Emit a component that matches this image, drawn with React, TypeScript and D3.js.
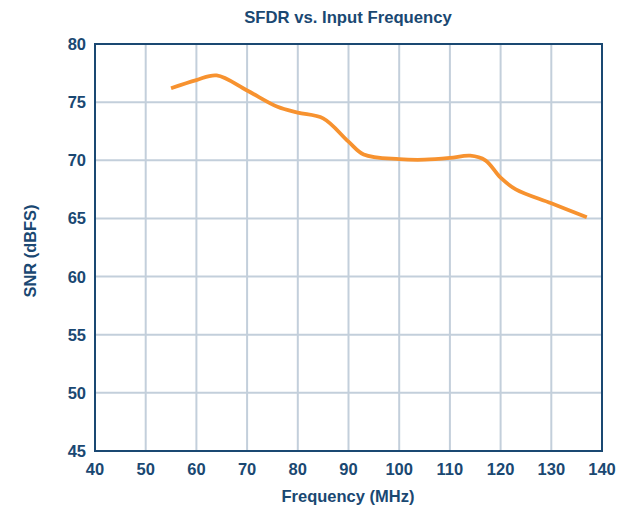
import React from 'react';
import * as d3 from 'd3';

const freqs = [55, 60, 64, 70, 76, 80, 85, 90, 93, 100, 105, 110, 114, 117, 120, 123, 130, 137];
const snr = [76.2, 76.9, 77.3, 76.0, 74.6, 74.1, 73.6, 71.6, 70.5, 70.1, 70.05, 70.2, 70.4, 70.0, 68.5, 67.5, 66.3, 65.1];
const xTicks = [40, 50, 60, 70, 80, 90, 100, 110, 120, 130, 140];
const yTicks = [45, 50, 55, 60, 65, 70, 75, 80];

const W = 637;
const H = 513;
const navy = '#1a4872';
const grid = '#c3cfdb';
const orange = '#f7922f';
const font = '"Liberation Sans", Arial, sans-serif';

const App: React.FC = () => {
  const x = d3.scaleLinear().domain([40, 140]).range([95, 602]);
  const y = d3.scaleLinear().domain([45, 80]).range([451, 44]);

  const pts = freqs.map((f, i) => [f, snr[i]] as [number, number]);
  const line = d3.line<[number, number]>()
    .x(d => x(d[0]))
    .y(d => y(d[1]))
    .curve(d3.curveCatmullRom.alpha(0.5));

  return (
    <svg width={W} height={H} style={{ position: 'absolute', left: 0, top: 0 }}>
      <rect width={W} height={H} fill="#fff" />
      {xTicks.slice(1, -1).map(t => (
        <line key={'gx' + t} x1={x(t)} x2={x(t)} y1={y(80)} y2={y(45)} stroke={grid} strokeWidth={2} />
      ))}
      {yTicks.slice(1, -1).map(t => (
        <line key={'gy' + t} x1={x(40)} x2={x(140)} y1={y(t)} y2={y(t)} stroke={grid} strokeWidth={2} />
      ))}
      <rect x={x(40)} y={y(80)} width={x(140) - x(40)} height={y(45) - y(80)} fill="none" stroke={navy} strokeWidth={2} />
      <path d={line(pts) || ''} fill="none" stroke={orange} strokeWidth={3.8} strokeLinecap="butt" />
      {xTicks.map(t => (
        <text key={'tx' + t} x={x(t)} y={475} textAnchor="middle" fill={navy} fontFamily={font} fontWeight="bold" fontSize={16.5}>{t}</text>
      ))}
      {yTicks.map(t => (
        <text key={'ty' + t} x={86} y={y(t) + 6} textAnchor="end" fill={navy} fontFamily={font} fontWeight="bold" fontSize={16.5}>{t}</text>
      ))}
      <text x={348} y={23} textAnchor="middle" fill={navy} fontFamily={font} fontWeight="bold" fontSize={16.7}>SFDR vs. Input Frequency</text>
      <text x={348} y={502} textAnchor="middle" fill={navy} fontFamily={font} fontWeight="bold" fontSize={16.5}>Frequency (MHz)</text>
      <text transform={`translate(36,${y(62.2)}) rotate(-90)`} textAnchor="middle" fill={navy} fontFamily={font} fontWeight="bold" fontSize={16.4}>SNR (dBFS)</text>
    </svg>
  );
};

export default App;
